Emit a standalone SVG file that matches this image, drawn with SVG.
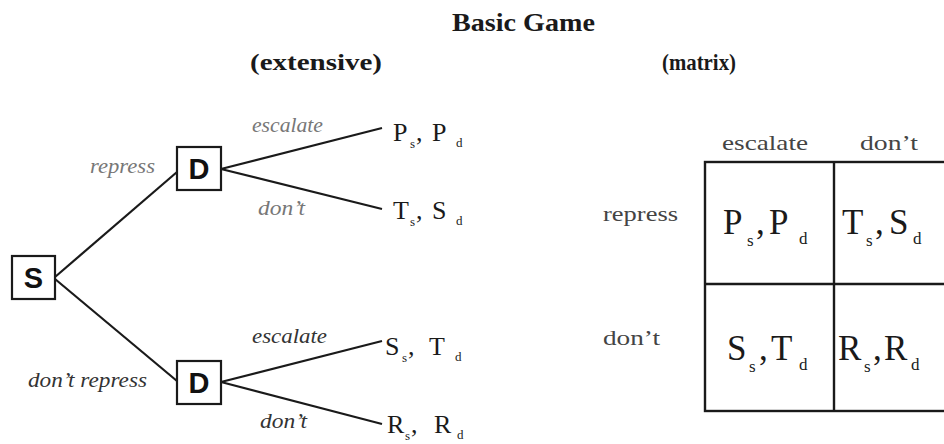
<svg xmlns="http://www.w3.org/2000/svg" width="944" height="444" viewBox="0 0 944 444">
<style>
.bg{fill:#fff}
.box{fill:#fff;stroke:#1a1a1a;stroke-width:2.2}
.node{font-family:"Liberation Sans",Arial,sans-serif;font-weight:bold;font-size:29px;fill:#111;text-anchor:middle}
.edge{stroke:#1a1a1a;stroke-width:2.2;fill:none}
.lbl{font-family:"Liberation Serif","Times New Roman",serif;font-style:italic;font-size:21px}
.lt{fill:#777}
.dk{fill:#333}
.pay{font-family:"Liberation Serif","Times New Roman",serif;fill:#1a1a1a}
.hdr{font-family:"Liberation Serif","Times New Roman",serif;font-weight:bold;fill:#1a1a1a}
.mlbl{font-family:"Liberation Serif","Times New Roman",serif;font-size:22px;fill:#444}
.grid{fill:none;stroke:#1a1a1a;stroke-width:2.4}
</style>
<rect class="bg" x="0" y="0" width="944" height="444"/>

<g id="titles">
<text class="hdr" x="452" y="31" font-size="26" textLength="143" lengthAdjust="spacingAndGlyphs">Basic Game</text>
<text class="hdr" x="250" y="70" font-size="24" textLength="132" lengthAdjust="spacingAndGlyphs">(extensive)</text>
<text class="hdr" x="662" y="70" font-size="24" textLength="74" lengthAdjust="spacingAndGlyphs">(matrix)</text>
</g>

<g id="connectors">
<line class="edge" x1="55" y1="277" x2="177" y2="172"/>
<line class="edge" x1="55" y1="279" x2="177" y2="381"/>
<line class="edge" x1="221" y1="169" x2="382" y2="128"/>
<line class="edge" x1="221" y1="169" x2="382" y2="209"/>
<line class="edge" x1="221" y1="382" x2="382" y2="341"/>
<line class="edge" x1="221" y1="382" x2="382" y2="424"/>
</g>

<g id="node-S">
<rect class="box" x="12" y="256" width="43" height="43"/>
<text class="node" x="33.5" y="288">S</text>
</g>
<g id="node-D-top">
<rect class="box" x="177" y="147" width="44" height="43"/>
<text class="node" x="199" y="179">D</text>
</g>
<g id="node-D-bottom">
<rect class="box" x="177" y="361" width="44" height="43"/>
<text class="node" x="199" y="393">D</text>
</g>

<g id="edge-labels">
<text class="lbl lt" x="90" y="173" textLength="65" lengthAdjust="spacingAndGlyphs">repress</text>
<text class="lbl lt" x="252" y="132" textLength="71" lengthAdjust="spacingAndGlyphs">escalate</text>
<text class="lbl lt" x="258" y="215" textLength="47" lengthAdjust="spacingAndGlyphs">don’t</text>
<text class="lbl dk" x="28" y="387" textLength="119" lengthAdjust="spacingAndGlyphs">don’t repress</text>
<text class="lbl dk" x="252" y="343" textLength="75" lengthAdjust="spacingAndGlyphs">escalate</text>
<text class="lbl dk" x="260" y="428" textLength="47" lengthAdjust="spacingAndGlyphs">don’t</text>
</g>

<g id="payoffs-tree" class="pay">
<text font-size="26"><tspan x="393" y="141">P</tspan><tspan x="410" y="148" font-size="13">s</tspan><tspan x="416" y="141">,</tspan><tspan x="432" y="141">P</tspan><tspan x="456" y="147" font-size="13">d</tspan></text>
<text font-size="26"><tspan x="393" y="219">T</tspan><tspan x="410" y="226" font-size="13">s</tspan><tspan x="416" y="219">,</tspan><tspan x="432" y="219">S</tspan><tspan x="456" y="225" font-size="13">d</tspan></text>
<text font-size="26"><tspan x="385" y="355">S</tspan><tspan x="402" y="362" font-size="13">s</tspan><tspan x="408" y="355">,</tspan><tspan x="429" y="355">T</tspan><tspan x="455" y="361" font-size="13">d</tspan></text>
<text font-size="26"><tspan x="387" y="433">R</tspan><tspan x="405" y="440" font-size="13">s</tspan><tspan x="411" y="433">,</tspan><tspan x="434" y="433">R</tspan><tspan x="457" y="439" font-size="13">d</tspan></text>
</g>

<g id="matrix">
<rect class="grid" x="705" y="162" width="258" height="249"/>
<line class="grid" x1="834" y1="162" x2="834" y2="411"/>
<line class="grid" x1="705" y1="284" x2="963" y2="284"/>
<text class="mlbl" x="722" y="150" textLength="86" lengthAdjust="spacingAndGlyphs">escalate</text>
<text class="mlbl" x="860" y="150" textLength="58" lengthAdjust="spacingAndGlyphs">don’t</text>
<text class="mlbl" x="603" y="221" textLength="75" lengthAdjust="spacingAndGlyphs">repress</text>
<text class="mlbl" x="603" y="345" textLength="57" lengthAdjust="spacingAndGlyphs">don’t</text>
</g>

<g id="payoffs-matrix" class="pay">
<text font-size="35"><tspan x="723" y="234">P</tspan><tspan x="747" y="246" font-size="17">s</tspan><tspan x="756" y="234">,</tspan><tspan x="769" y="234">P</tspan><tspan x="799" y="244" font-size="17">d</tspan></text>
<text font-size="35"><tspan x="842" y="234">T</tspan><tspan x="866" y="246" font-size="17">s</tspan><tspan x="875" y="234">,</tspan><tspan x="889" y="234">S</tspan><tspan x="913" y="244" font-size="17">d</tspan></text>
<text font-size="35"><tspan x="727" y="360">S</tspan><tspan x="749" y="372" font-size="17">s</tspan><tspan x="759" y="360">,</tspan><tspan x="771" y="360">T</tspan><tspan x="799" y="370" font-size="17">d</tspan></text>
<text font-size="35"><tspan x="838" y="360">R</tspan><tspan x="864" y="372" font-size="17">s</tspan><tspan x="873" y="360">,</tspan><tspan x="884" y="360">R</tspan><tspan x="911" y="370" font-size="17">d</tspan></text>
</g>
</svg>
